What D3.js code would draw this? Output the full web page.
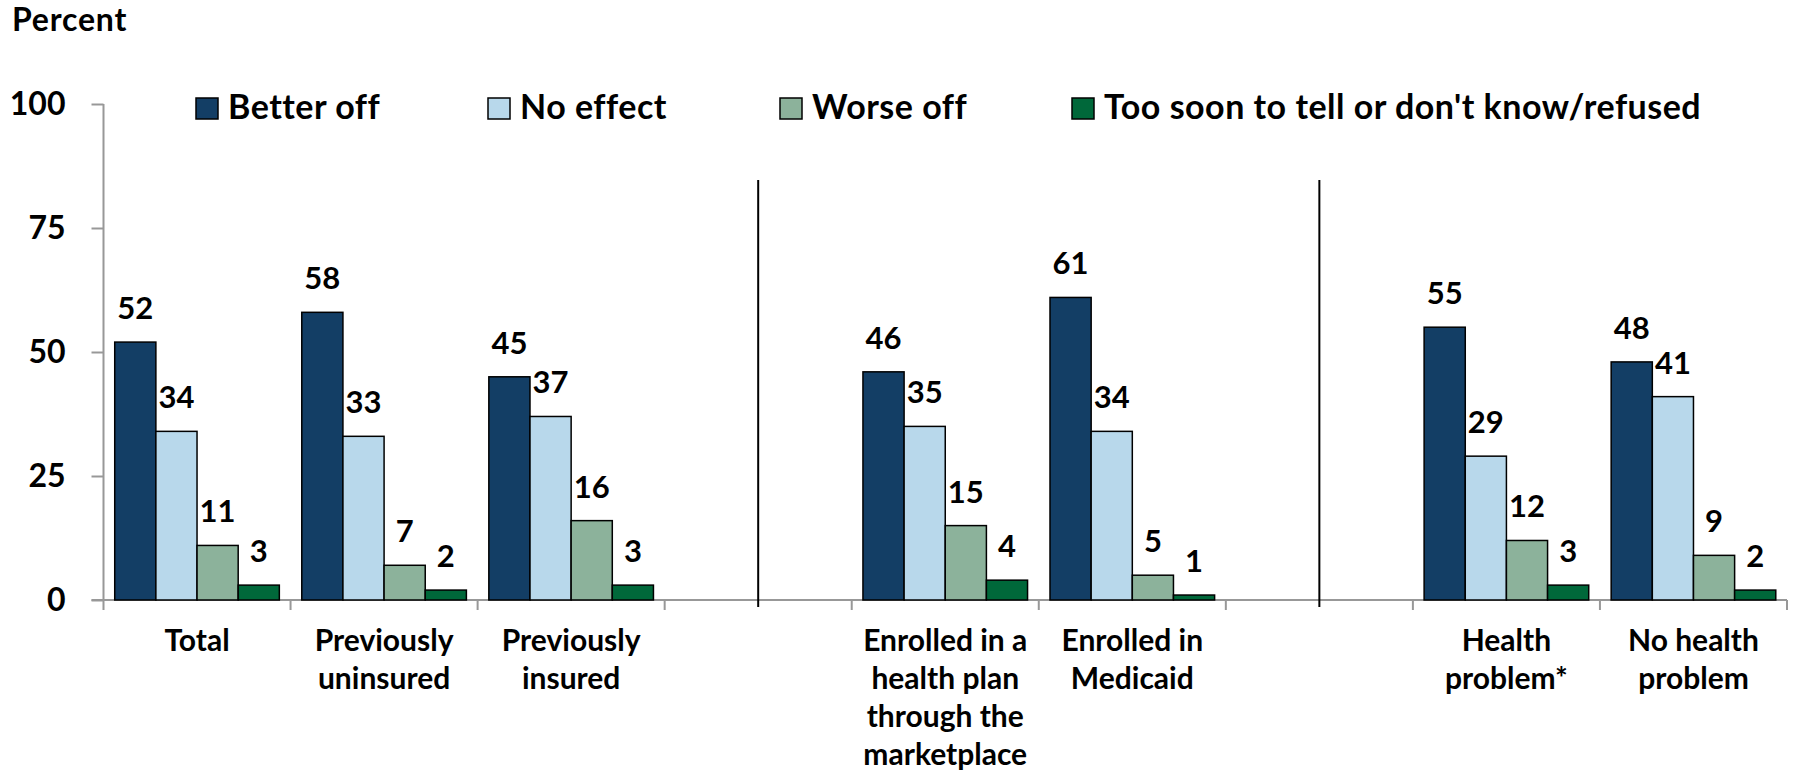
<!DOCTYPE html>
<html>
<head>
<meta charset="utf-8">
<script src="https://cdn.jsdelivr.net/npm/d3@7"></script>
<style>
  html, body { margin: 0; padding: 0; background: #ffffff; }
  svg { display: block; }
  text { font-family: Lato, "Open Sans", sans-serif; font-weight: 700; fill: #000; }
</style>
</head>
<body>
<svg id="chart" width="1796" height="773"></svg>
<script>
// Categories (blank slots separate the three groups)
const categories = ["Total", "Previously uninsured", "Previously insured", "gap1",
  "Enrolled in a health plan through the marketplace", "Enrolled in Medicaid", "gap2",
  "Health problem*", "No health problem"];
const categoryLines = {
  "Total": ["Total"],
  "Previously uninsured": ["Previously", "uninsured"],
  "Previously insured": ["Previously", "insured"],
  "Enrolled in a health plan through the marketplace": ["Enrolled in a", "health plan", "through the", "marketplace"],
  "Enrolled in Medicaid": ["Enrolled in", "Medicaid"],
  "Health problem*": ["Health", "problem*"],
  "No health problem": ["No health", "problem"]
};
const separators = ["gap1", "gap2"];

const seriesNames = ["Better off", "No effect", "Worse off", "Too soon to tell or don't know/refused"];
const seriesColors = ["#133e65", "#b8d8eb", "#8cb29b", "#00683a"];

const betterOff = [52, 58, 45, null, 46, 61, null, 55, 48];
const noEffect  = [34, 33, 37, null, 35, 34, null, 29, 41];
const worseOff  = [11, 7, 16, null, 15, 5, null, 12, 9];
const tooSoon   = [3, 2, 3, null, 4, 1, null, 3, 2];
const seriesValues = [betterOff, noEffect, worseOff, tooSoon];

const yTicks = [0, 25, 50, 75, 100];

const svg = d3.select("#chart");

const x = d3.scaleBand()
  .domain(categories)
  .range([103.5, 1787])
  .paddingInner(0.12)
  .paddingOuter(0.06);

const xSeries = d3.scaleBand()
  .domain(d3.range(seriesNames.length))
  .range([0, x.bandwidth()]);

const y = d3.scaleLinear().domain([0, 100]).range([600, 104]);

const axisColor = "#989898";

// Y axis
const yAxis = svg.append("g").attr("transform", "translate(103.5,0)")
  .call(d3.axisLeft(y).tickValues(yTicks).tickSize(12).tickFormat(d3.format("d")));
yAxis.select(".domain").remove();
yAxis.selectAll(".tick line").attr("stroke", axisColor).attr("stroke-width", 2);
yAxis.selectAll(".tick text")
  .attr("x", -38)
  .attr("font-size", 32)
  .attr("font-family", "Lato, 'Open Sans', sans-serif")
  .attr("font-weight", 700)
  .attr("fill", "#000");
svg.append("line")
  .attr("x1", 103.5).attr("x2", 103.5)
  .attr("y1", y(100)).attr("y2", y(0) + 10)
  .attr("stroke", axisColor).attr("stroke-width", 2);

// X axis baseline and slot boundary ticks
const gapHalf = (x.step() - x.bandwidth()) / 2;
const boundaries = categories.map(c => x(c) - gapHalf).concat([x(categories[categories.length - 1]) + x.bandwidth() + gapHalf]);
svg.append("line")
  .attr("x1", 91.5).attr("x2", boundaries[boundaries.length - 1])
  .attr("y1", y(0)).attr("y2", y(0))
  .attr("stroke", axisColor).attr("stroke-width", 2);
svg.append("g").selectAll("line").data(boundaries.slice(1)).join("line")
  .attr("x1", d => d).attr("x2", d => d)
  .attr("y1", y(0)).attr("y2", y(0) + 10)
  .attr("stroke", axisColor).attr("stroke-width", 2);

// Group separators
svg.append("g").selectAll("line").data(separators).join("line")
  .attr("x1", d => x(d) + x.bandwidth() / 2)
  .attr("x2", d => x(d) + x.bandwidth() / 2)
  .attr("y1", 180).attr("y2", y(0) + 7)
  .attr("stroke", "#000").attr("stroke-width", 2);

// Bars and value labels
const barData = [];
categories.forEach((c, ci) => {
  seriesValues.forEach((vals, si) => {
    if (vals[ci] != null) barData.push({ cat: c, s: si, v: vals[ci] });
  });
});

svg.append("g").selectAll("rect").data(barData).join("rect")
  .attr("x", d => x(d.cat) + xSeries(d.s))
  .attr("y", d => y(d.v))
  .attr("width", xSeries.bandwidth())
  .attr("height", d => y(0) - y(d.v))
  .attr("fill", d => seriesColors[d.s])
  .attr("stroke", "#000")
  .attr("stroke-width", 1.5);

svg.append("g").selectAll("text").data(barData).join("text")
  .attr("x", d => x(d.cat) + xSeries(d.s) + xSeries.bandwidth() / 2)
  .attr("y", d => y(d.v) - 23)
  .attr("text-anchor", "middle")
  .attr("font-size", 31)
  .text(d => d.v);

// Category labels
const catGroup = svg.append("g");
categories.filter(c => categoryLines[c]).forEach(c => {
  const t = catGroup.append("text")
    .attr("text-anchor", "middle")
    .attr("font-size", 30)
    .attr("x", x(c) + x.bandwidth() / 2)
    .attr("y", 651);
  categoryLines[c].forEach((line, i) => {
    t.append("tspan")
      .attr("x", x(c) + x.bandwidth() / 2)
      .attr("dy", i === 0 ? 0 : 38)
      .text(line);
  });
});

// Axis title
svg.append("text")
  .attr("x", 12).attr("y", 31)
  .attr("font-size", 32)
  .attr("letter-spacing", 0.8)
  .text("Percent");

// Legend
const legend = svg.append("g");
const legendX = d3.scaleLinear().domain([0, 1]).range([196, 488]);
seriesNames.forEach((name, i) => {
  const lx = legendX(i);
  legend.append("rect")
    .attr("x", lx).attr("y", 98)
    .attr("width", 22).attr("height", 21)
    .attr("fill", seriesColors[i])
    .attr("stroke", "#000").attr("stroke-width", 1.5);
  legend.append("text")
    .attr("x", lx + 32).attr("y", 119)
    .attr("font-size", 34)
    .attr("letter-spacing", 0.5)
    .text(name);
});
</script>
</body>
</html>
